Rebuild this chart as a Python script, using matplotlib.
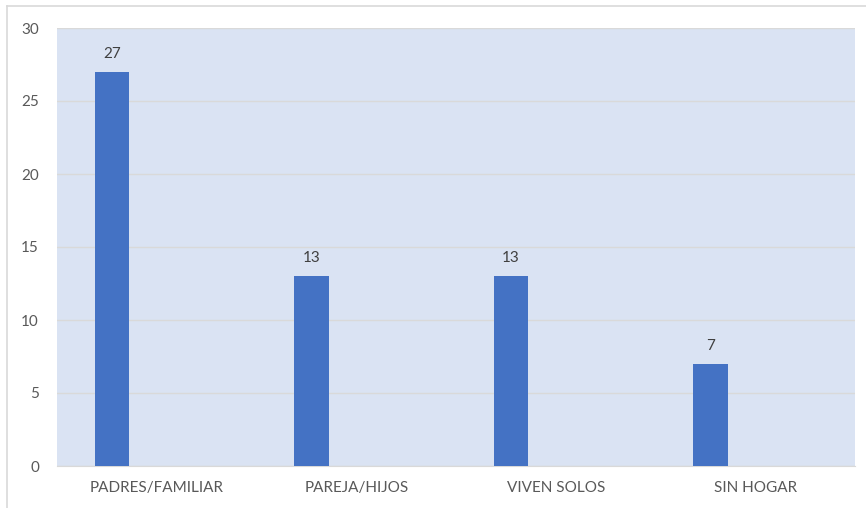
import matplotlib
matplotlib.use("Agg")
import matplotlib.pyplot as plt
from matplotlib.lines import Line2D
import numpy as np

categories = ["PADRES/FAMILIAR", "PAREJA/HIJOS", "VIVEN SOLOS", "SIN HOGAR"]
values = [27, 13, 13, 7]
yticks = [0, 5, 10, 15, 20, 25, 30]

W, H = 866, 508
fig = plt.figure(figsize=(W / 100, H / 100), dpi=100)
plt.rcParams['font.family'] = ['Lato', 'DejaVu Sans']

left, right, top, bottom = 57, 855, 28, 466
ax = fig.add_axes([left / W, 1 - bottom / H, (right - left) / W, (bottom - top) / H])
ax.set_facecolor("#DAE3F3")

x = np.arange(len(categories))
offset = -0.224
bw = 0.172
bars = ax.bar(x + offset, values, width=bw, color="#4472C4", zorder=3)
for xi, v in zip(x, values):
    ax.annotate(str(v), (xi + offset, v), xytext=(0, 8), textcoords="offset points",
                ha="center", va="bottom", fontsize=11, color="#404040")

ax.set_xlim(-0.5, len(categories) - 0.5)
ax.set_ylim(0, 30)
ax.set_yticks(yticks)
ax.set_yticklabels([str(t) for t in yticks], fontsize=11, color="#595959")
ax.set_xticks(x)
ax.set_xticklabels(categories, fontsize=11, color="#595959")
ax.tick_params(axis="both", length=0)
ax.tick_params(axis="y", pad=13)
ax.tick_params(axis="x", pad=11)
ax.grid(axis="y", color="#D9D9D9", linewidth=1, zorder=0)
for s in ["top", "right", "left"]:
    ax.spines[s].set_visible(False)
ax.spines["bottom"].set_color("#D9D9D9")

fig.add_artist(Line2D([7 / W, 1], [1 - 6 / H, 1 - 6 / H], color="#D9D9D9", lw=1.2, transform=fig.transFigure))
fig.add_artist(Line2D([7 / W, 7 / W], [0, 1 - 6 / H], color="#D9D9D9", lw=1.2, transform=fig.transFigure))

fig.savefig("out.png", dpi=100)
